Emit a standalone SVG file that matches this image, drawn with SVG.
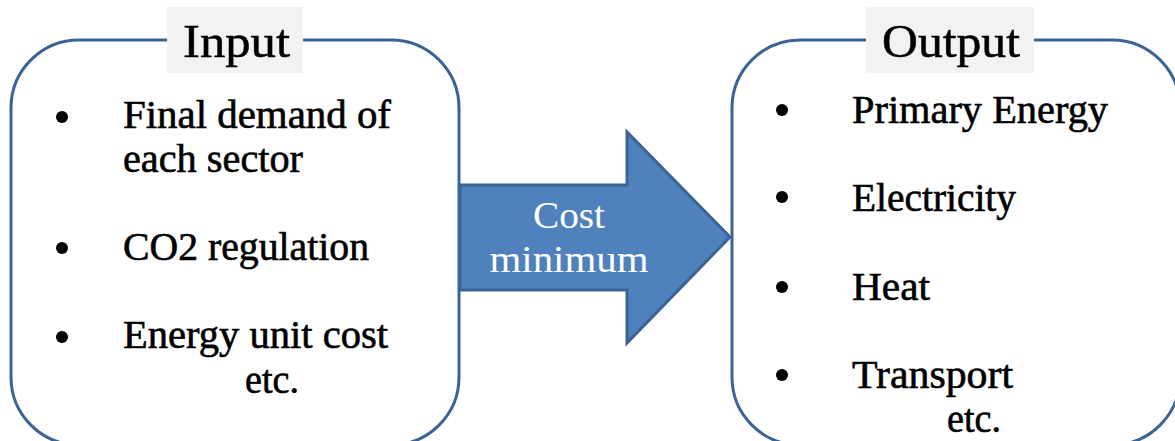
<svg xmlns="http://www.w3.org/2000/svg" width="1175" height="441" viewBox="0 0 1175 441">
  <style>
    .box { fill: #ffffff; stroke: #3B6496; stroke-width: 3; }
    .label-bg { fill: #F2F2F2; }
    .title { font-family: "Liberation Serif", "Times New Roman", serif; font-size: 47px; fill: #000000; stroke: #000000; stroke-width: 0.5; }
    .item { font-family: "Liberation Serif", "Times New Roman", serif; font-size: 39px; fill: #000000; stroke: #000000; stroke-width: 0.6; }
    .arrow-text { font-family: "Liberation Serif", "Times New Roman", serif; font-size: 38px; fill: #ffffff; text-anchor: middle; }
    .bullet { fill: #000000; }
  </style>
  <rect width="1175" height="441" fill="#ffffff"/>

  <g id="input">
    <rect class="box" x="11" y="40" width="448" height="405" rx="68" ry="68"/>
    <rect class="label-bg" x="167" y="7" width="136" height="66"/>
    <text class="title" x="183" y="57" textLength="107" lengthAdjust="spacingAndGlyphs">Input</text>
    <circle class="bullet" cx="62" cy="117" r="6"/>
    <circle class="bullet" cx="62" cy="248" r="6"/>
    <circle class="bullet" cx="62" cy="337" r="6"/>
    <text class="item" x="123" y="128" textLength="268" lengthAdjust="spacingAndGlyphs">Final demand of</text>
    <text class="item" x="123" y="172" textLength="180" lengthAdjust="spacingAndGlyphs">each sector</text>
    <text class="item" x="123" y="260" textLength="246" lengthAdjust="spacingAndGlyphs">CO2 regulation</text>
    <text class="item" x="123" y="348" textLength="265" lengthAdjust="spacingAndGlyphs">Energy unit cost</text>
    <text class="item" x="245" y="393" textLength="54" lengthAdjust="spacingAndGlyphs">etc.</text>
  </g>

  <g id="output">
    <rect class="box" x="732" y="40" width="448" height="405" rx="68" ry="68"/>
    <rect class="label-bg" x="866" y="7" width="168" height="66"/>
    <text class="title" x="882" y="57" textLength="138" lengthAdjust="spacingAndGlyphs">Output</text>
    <circle class="bullet" cx="782" cy="110" r="6"/>
    <circle class="bullet" cx="782" cy="197" r="6"/>
    <circle class="bullet" cx="782" cy="287" r="6"/>
    <circle class="bullet" cx="782" cy="375" r="6"/>
    <text class="item" x="852" y="123" textLength="256" lengthAdjust="spacingAndGlyphs">Primary Energy</text>
    <text class="item" x="852" y="211" textLength="164" lengthAdjust="spacingAndGlyphs">Electricity</text>
    <text class="item" x="852" y="300" textLength="78" lengthAdjust="spacingAndGlyphs">Heat</text>
    <text class="item" x="852" y="388" textLength="161" lengthAdjust="spacingAndGlyphs">Transport</text>
    <text class="item" x="947" y="432" textLength="54" lengthAdjust="spacingAndGlyphs">etc.</text>
  </g>

  <g id="connectors">
    <g id="cost-minimum-arrow">
      <polygon points="460,185 627,185 627,132 730,237 627,343 627,290 460,290" fill="#4F81BD" stroke="#3B6496" stroke-width="3" stroke-linejoin="miter"/>
      <text class="arrow-text" x="569" y="228" textLength="72" lengthAdjust="spacingAndGlyphs">Cost</text>
      <text class="arrow-text" x="569" y="272" textLength="159" lengthAdjust="spacingAndGlyphs">minimum</text>
    </g>
  </g>
</svg>
